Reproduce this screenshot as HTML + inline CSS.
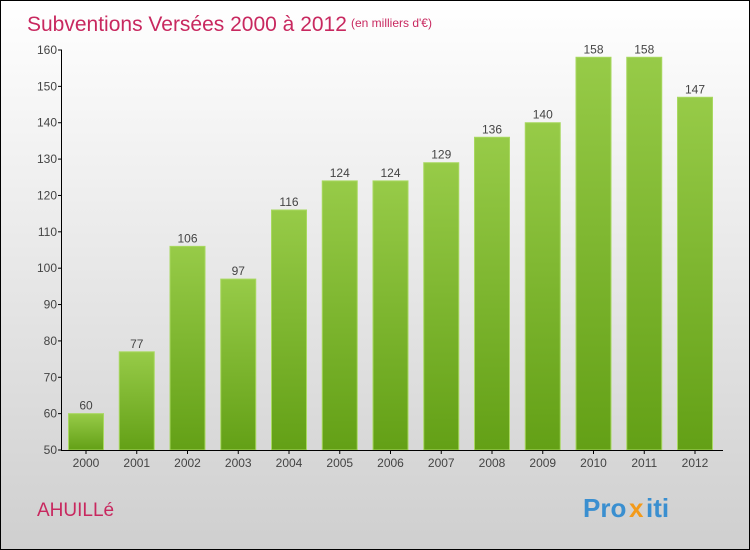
<!DOCTYPE html>
<html><head><meta charset="utf-8"><style>
body{margin:0}
#c{position:relative;width:748px;height:548px;border:1px solid #000;background:linear-gradient(#ffffff,#cfcfcf);font-family:"Liberation Sans",sans-serif;overflow:hidden}
</style></head><body>
<div id="c">
<svg id="s" width="748" height="548" style="position:absolute;left:0;top:0">
<defs><linearGradient id="g" x1="0" y1="0" x2="0" y2="1"><stop offset="0" stop-color="#97cb48"/><stop offset="1" stop-color="#63a016"/></linearGradient></defs>
<text x="26" y="30" font-size="21" fill="#c8285f">Subventions Versées 2000 à 2012</text>
<text x="350" y="26" font-size="12" fill="#c8285f">(en milliers d'€)</text>
<text x="36" y="515" font-size="19" fill="#c8285f">AHUILLé</text>
<g font-size="26" font-weight="bold">
<text x="582" y="516" fill="#3a8fd0">Pro</text><text x="628" y="516" fill="#f39a1a">x</text><text x="645" y="516" fill="#3a8fd0">iti</text></g>
<g id="plot"></g>
</svg>
</div>
<script>
const years=["2000","2001","2002","2003","2004","2005","2006","2007","2008","2009","2010","2011","2012"];
const values=[60,77,106,97,116,124,124,129,136,140,158,158,147];
const ticks=[50,60,70,80,90,100,110,120,130,140,150,160];
const NS="http://www.w3.org/2000/svg";
const p=document.getElementById('plot');
const y=v=>449-(v-50)*400/110;
const x=i=>85+i*50.75;
function mk(t,a,txt){const e=document.createElementNS(NS,t);for(const k in a)e.setAttribute(k,a[k]);if(txt!=null)e.textContent=txt;p.appendChild(e);return e;}
ticks.forEach(t=>{
const l=mk('line',{x1:57,x2:61,y1:y(t),y2:y(t),stroke:'#000'});


const tx=mk('text',{x:56,y:y(t)+4,'font-size':12,fill:'#444','text-anchor':'end'},t);


});
values.forEach((v,i)=>{
const r=mk('rect',{x:x(i)-17.5,y:y(v),width:35,height:y(50)-y(v),fill:'url(#g)',stroke:'#a8d860','stroke-width':1});


const t=mk('text',{x:x(i),y:y(v)-4,'font-size':12,fill:'#444','text-anchor':'middle'},v);


const tk=mk('line',{x1:x(i),x2:x(i),y1:449,y2:453,stroke:'#000'});


const xl=mk('text',{x:x(i),y:466,'font-size':12,fill:'#444','text-anchor':'middle'},years[i]);


});
const ya=mk('line',{x1:60.5,x2:60.5,y1:y(160),y2:449.5,stroke:'#000'});


const xa=mk('line',{x1:60,x2:722,y1:449.5,y2:449.5,stroke:'#000'});


</script>
</body></html>
